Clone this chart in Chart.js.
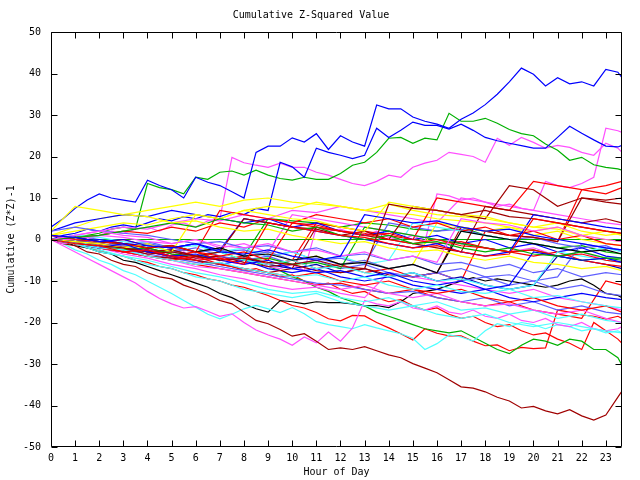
<!DOCTYPE html>
<html><head><meta charset="utf-8">
<script src="https://cdn.jsdelivr.net/npm/chart.js@4/dist/chart.umd.min.js"></script>
<style>html,body{margin:0;padding:0;background:#fff}</style>
</head><body>
<canvas id="c" width="640" height="480"></canvas>
<script>
// ---------- tick labels / categories ----------
const xTickValues = [0,1,2,3,4,5,6,7,8,9,10,11,12,13,14,15,16,17,18,19,20,21,22,23];
const yTickValues = [-50,-40,-30,-20,-10,0,10,20,30,40,50];
const hoursHalf = [0,0.5,1,1.5,2,2.5,3,3.5,4,4.5,5,5.5,6,6.5,7,7.5,8,8.5,9,9.5,10,10.5,11,11.5,12,12.5,13,13.5,14,14.5,15,15.5,16,16.5,17,17.5,18,18.5,19,19.5,20,20.5,21,21.5,22,22.5,23,23.5,23.67];
const hoursFull = [0,1,2,3,4,5,6,7,8,9,10,11,12,13,14,15,16,17,18,19,20,21,22,23,23.67];
const zeroHours = [0,23.67];
const zeroLine = [0,0];

// ---------- prominent series (half-hour readings) ----------
const topBlue = [3,5, 7.5,9.5, 11,10, 9.5,9, 14.3,13, 12,10, 15,13.8, 13,11.5, 10,21, 22.5,22.5, 24.5,23.5, 25.5,21.7, 25,23.5, 22.5,32.4, 31.5,31.5, 29.5,28.5, 27.8,26.8, 29,30.5, 32.5,35, 38,41.3, 39.8,37, 39,37.5, 38,37, 41,40.3, 39];
const secondBlue = [0,1, 1.5,2.5, 2,3, 3.5,3, 4,5, 4.5,5.5, 5,6, 5.5,6.5, 6,7.5, 7,18.6, 17.5,15, 22,21, 20.3,19.5, 20.3,26.8, 24.6,26.3, 28.3,27.5, 27.5,26.6, 27.8,26.3, 24.6,23.8, 23.2,22.6, 22,22, 24.6,27.3, 25.6,24, 22.5,22.3, 22.7];
const topGreen = [0,-0.5, 0.5,1, 1.5,2.5, 3,2.5, 13.5,12.5, 12,11, 15,14.5, 16.2,16.5, 15.5,16.7, 15.5,14.7, 14.3,15, 14.5,14.5, 15.9,17.9, 18.6,21, 24.4,24.6, 23.2,24.4, 24,30.4, 28.5,28.5, 29.2,28, 26.5,25.5, 25,23, 21.5,19.1, 19.8,18, 17.4,17, 16.7];
const topMagenta = [0,0.5, 1,0, 1,2, 1.5,2.5, 3,2, 3.5,4, 3,4.5, 5,19.8, 18.5,17.9, 17.4,18.4, 17.4,17.4, 16.2,15.5, 14.5,13.5, 13,14, 15.5,15, 17.4,18.4, 19.1,21, 20.5,20, 18.6,24.4, 22.7,24.6, 23.4,22, 22.7,22.2, 21,20.3, 23.2,22, 21];
const endMagenta = [0,-1, -0.5,-1.5, -2,-1, -2.5,-3, -2,-3.5, -4,-3, -4.5,-5, -4,-5.5, -6,-5, -6.5,-7, -6,-7.5, 3,2, 2.5,1.5, 1,2, 0.5,0, 1,-0.5, 11,10.5, 9.5,10, 9,8, 8.5,7.5, 7,14, 13,12.5, 13.5,15, 26.8,26.2, 25.8];
const lowDarkRed = [0,-1, -1.5,-3, -3.5,-5, -6,-6.5, -8,-9, -9.5,-11, -12,-13.2, -14.7,-15.5, -17.5,-19.5, -20.3,-21.7, -23.3,-22.7, -24.5,-26.5, -26.1,-26.5, -25.8,-26.8, -27.8,-28.5, -29.9,-31, -32.1,-33.8, -35.5,-35.8, -36.7,-38, -38.9,-40.6, -40.2,-41.3, -42,-41, -42.5,-43.5, -42.3,-38, -36.5];
const lowMagenta = [0,-1.5, -3,-4.5, -6,-7.5, -9,-10.5, -12.5,-14.2, -15.5,-16.5, -16.2,-17.3, -18.5,-17.9, -20,-21.8, -23,-24, -25.5,-23.5, -24.9,-22.3, -24.5,-21.3, -14.7,-15.5, -16,-15, -16.5,-17, -16,-17.5, -18,-17, -18.5,-19, -18,-19.5, -20,-19, -20.5,-21, -20,-21.5, -22,-21.5, -21];
const lowCyan = [0,-1, -2.5,-3.5, -5,-6, -7.5,-8.5, -10,-11.5, -13,-14.7, -16.3,-18, -19.1,-18, -16.7,-15.9, -16.7,-17.6, -16.4,-17.9, -19.8,-20.5, -21,-21.5, -20.5,-21.3, -22,-22.7, -23.8,-26.5, -25.1,-23, -23.5,-24.5, -22,-20.3, -21,-20, -20.5,-21.5, -20.5,-21, -22,-21.5, -22.5,-22, -22.5];
const lowBlack = [0,-0.5, -1.5,-2, -3,-3.5, -5,-5.5, -6.5,-7.5, -8.5,-9.5, -10.5,-11.5, -13,-14, -15.5,-16.7, -17.5,-14.7, -15,-15.5, -15,-15.2, -15.2,-15.5, -16,-15.9, -16.4,-15, -13,-12.5, -12,-11, -10,-9.2, -10,-9.5, -10,-10.5, -11,-11.5, -11,-10, -9.5,-11, -13,-13.5, -14];
const lowGreen = [0,-0.5, 0,-0.5, -1,-1.5, -1.5,-2, -2.5,-3, -3,-3.5, -4,-4, -4.5,-4.5, -5,-5.5, -6.5,-7.5, -9,-10, -11.5,-12.5, -14,-15, -16,-17.5, -18.5,-19.5, -20.5,-21.5, -22,-22.5, -22,-23.5, -25,-26.5, -27.5,-25.5, -24,-24.5, -25.5,-24, -24.5,-26.5, -26.5,-28.5, -30.3];
const lowRedA = [0,-0.5, -1,-2, -2.5,-3.5, -4,-5, -5.5,-6.5, -7,-8, -8.5,-9.5, -10,-11, -11.5,-12.5, -13.5,-14.7, -15.9,-16.5, -17.6,-19.1, -19.6,-18.3, -18.4,-20, -21.3,-22.7, -24.2,-21.5, -22.6,-23.2, -23.2,-24.5, -25.6,-25.4, -26.8,-26, -26.3,-26.1, -17,-17.5, -18.2,-18.5, -19.2,-18.5, -19];
const lowRedB = [1,0.5, 0,-0.5, -1.5,-1, -2,-3, -2.5,-3.5, -4.5,-4, -5,-6, -5.5,-6.5, -7.5,-7, -8,-9, -8.5,-10, -11,-10.5, -12,-13, -12.5,-14, -15,-14.5, -16,-17, -16.5,-18, -19,-18.5, -20,-21, -20.5,-22, -23,-22.5, -24,-25, -26.5,-20, -22,-24, -25];

// ---------- middle bundle (hourly readings) ----------
const mid01 = [0,-1,-1.5,-3,-2.5, -4,-5,-4.5,-6,4, 3,2,1,0.5,-1, -2,-1.5,-3,-4,-3.5, 5,4,3,2,1.5];
const mid02 = [1,0.5,-0.5,0,-1.5, -2,-1,-3,-3.5,-2.5, -4,-5,-4,6,5, 4,4.5,3,2,2.5, 1,0,-1,-2,-2.5];
const mid03 = [2,8,7,6,5.5, 4,4.5,3,2,2.5, 1,0,-1,-0.5,-2, -3,-2.5,-4,-5,-4, -5.5,-6,-7,-6.5,-7.5];
const mid04 = [0,-1,-3,-4,-6, -7,-9,-10,-12,-13, -14,-13,-15,-16,-17, -16,-18,-19,-18,-20, -21,-20,-21,-22,-22.5];
const mid05 = [0,-1,-1.5,-2,-3.5, -3,-4,-5,-4.5,-5.5, -6,-5,-6.5,-7,8.5, 7.5,7,6,7,5.5, 5,4,3,2,1.5];
const mid06 = [0,1,2,1,0.5, -1,0,-1.5,-2,-1, -3,-2.5,-4,-3,-5, -4,-5.5,5,4,3.5, 2,3,1,0,-0.5];
const mid07 = [0,-1,-2,-2.5,-4, -5,-6,-5.5,-7,-8, -9,-8.5,-10,-9,-11, -12,-11,-12.5,-13,-12, -14,-13.5,-15,-16,-16.5];
const mid08 = [0,0.5,1,2,3, 4,3,5,4,3.5, 2,3,1,0,1, -1,-0.5,-2,-3,-2, -3.5,-4,-3,-4.5,-4.5];
const mid09 = [0,-1,-2,-1,-3, -4,-3.5,-5,-6,-5, -7,-8,-7.5,-9,-8, -10,-11,-10,-12,-11, -3,-4,-5,-4.5,-5.5];
const mid10 = [1,0,-0.5,-1,-2, -1.5,-3,-4,-3,-5, 4,3,2,1.5,0, -1,0,-1.5,-2,-3, -2.5,-4,-3.5,-5,-5.5];
const mid11 = [0,-0.5,-1,-2,-1, -3,6,5,7,6, 5,4.5,3,2,9, 8,7,6,5.5,4, 3,2.5,1,0,-0.5];
const mid12 = [2,3,2,1.5,1, 0,-1,-0.5,-2,-1.5, -3,-2,-4,-3.5,-5, -4,-6,-5.5,-7,-6, -8,-7,-9,-8,-8.5];
const mid13 = [0,0.5,-0.5,-1,-2, -1.5,-3,-2,-4,-3.5, -5,-4,-6,-5.5,-7, -6,-8,2,1,0, -1,-2,-3,-2.5,-3.5];
const mid14 = [0,-1,-2,-3,-4, -5,-4,-6,-7,-8, -9,-8,-10,-11,-10, -12,-13,-12,-14,-15, -14,-16,-17,-16,-17.5];
const mid15 = [0,-0.5,-1,-2,-3, -2.5,-4,-3,5,4, 3,2.5,1,2,0, 8,7,6,5,13, 12,8,10,9,8.5];
const mid16 = [0,-0.5,0,-1,-1.5, -2,-1,-2.5,5,4, 3,2,1,0,-1, -2,-1,-3,-4,-3, 6,5,4,3,2.5];
const mid17 = [0,-0.5,-1.5,-2,-1.5, -3,-4,-3,-5,-6, -5,-7,-6.5,-8,-9, -8,-10,-9.5,-11,-12, -11,-3,-4,-5,-5.5];
const mid18 = [0,-1,-2,-3,-4, -5,-6.5,-7,-8,-9, -10,-11,-12,-11,-13, -14,-13,-15,-16,-15.5, -17,-18,-17,-19,-20];
const mid19 = [0,-1,-1.5,-2.5,-2, -3.5,-4,-3,-5,-4.5, -6,-5.5,-7,3,2, 1,0,-1,-2,-3, -2.5,-4,-5,-4.5,-5];
const mid20 = [0,-0.5,-1,-1.5,-1, -2,-3,-2.5,-4,-3, -5,-4.5,-6,-5,-7, -6,-8,-7,-9,-8.5, -10,-9,-1,-2,-2.5];
const mid21 = [1,2,3,4,3.5, 5,6,5,7,8, 7.5,9,8,7,8.5, 7,6,5.5,5,4, 3,4,2,1,1.5];
const mid22 = [0,-0.5,-1,0,-1.5, -2,-3,7,6,5, 4,3.5,2,1,1.5, 0,-1,-0.5,-2,-3, -4,-3,-5,-6,-6.5];
const mid23 = [2,4,5,6,5.5, 7,6,5,4,5, 3,4,2,1,2, 0,1,-1,0,-2, -1,-3,-2,-4,-4.5];
const mid24 = [0,-1,-2,-3,-4, -4.5,-5,-6,-7,-8, -7,3,2,1,0, -1,-2,-3,8,7, 6,5,4,5,4];
const mid25 = [0,0,1,0.5,-0.5, -1,0,-2,-1,-3, 6,5,4,3,2, 1,0,-1,-2,-3, -2,-4,-3,-5,-5.5];
const mid26 = [1,0,-1,-2,-1, -3,-2,-4,-5,-4, -6,-5,-7,-6,-8, -9,-8,-10,-9,-11, -10,-12,-11,-13,-13.5];
const mid27 = [0,1,0.5,-0.5,-1, -2,-1.5,-3,-2,-4, -3,-5,-4,-6,-5, 4,3,2,1,0, -1,-2,-3,-2,-3];
const mid28 = [0,0.5,1,2,1.5, 3,2,4,3,5, 4,6,5,4,5, 3,4,2,3,1, 2,0,1,-1,-1.5];
const mid29 = [0,-1,-2,-3,-2.5, -4,-5,-6,-5,-7, -8,-7,-9,-10,-9, -11,-12,-13,-12,-14, -15,-14,-13,-14,-14.5];
const mid30 = [0,-0.5,-1,-1.5,-2, -1.5,-3,-2.5,-4,-3, -5,-4,-6,-5,-7, -6,4,3,2,3, 1,2,0,-1,-1.5];
const mid31 = [0,-1,-2,-1,-3, -4,-3,-5,-4,-6, -5,4,3,2,1, 0,10,9,8,7, 14,13,12,11,12.5];
const mid32 = [0,-0.5,-1.5,-2.5,-2, -3.5,-4.5,-4,-5.5,-6.5, -6,-7.5,-8,-7,-8.5, -9,-8,3,2,1, 0.5,-0.5,10,9.5,10];
const mid33 = [0,1,0,-1,-0.5, -2,-1,-3,-2.5,-4, -3,-5,-4.5,-6,4, 3,2,2.5,1,0, 0.5,-1,-2,-1.5,-3];
const mid34 = [0,-0.5,-1,-2,-3, -2.5,-4,-5,-4.5,-6, -7,-6,-8,-7,-9, -8,-10,-9,-11,-12, -11,-4,-5,-6,-7];
const mid35 = [1,3,5,6,7, 8,9,8,9.5,10, 9,8.5,8,7,6.5, 6,5,4.5,4,3, 2,3,1,2,1];
const mid36 = [0,-1,-2,-1.5,-3, -4,-3,-5,-4,-6, -5,-7,-6,-8,-7, -9,-8,-10,2,1, 0.5,-0.5,12,13,14];
const mid37 = [0,1,2,3,2.5, 4,5,4.5,6,5, 7,6.5,8,7,6, 5,4,10,9,8, 7,6,5,4,3.5];
const mid38 = [0,0.5,-0.5,-1,-2, -1.5,-3,-2,-4,5, 4.5,4,3,4,3.5, 2.5,2,3,1,0, -1,-2,-1.5,-3,-3.5];
const mid39 = [0,-1,-2.5,-4,-5, -6.5,-8,-9,-10.5,-12, -13,-12.5,-14,-15,-14, -16,-15,-17,-16.5,-18, -17,-19,-18,-19.5,-20];
const mid40 = [0,-1,-2,-3.5,-4.5, -6,-7,-8.5,-9.5,-11, -12,-11.5,-13,-14,-8, -9,-10,-11,-12,-13, -12,-14,-15,-16,-17];
const mid41 = [0,-0.5,-1.5,-2.5,-3.5, -4.5,-5.5,-6.5,-7.5,-8.5, -9.5,-10.5,-11,-12,-13, -12.5,-14,-15,-14,-16, -15,-17,-16,-17.5,-18];
const mid42 = [0,-1,-2,-3,-4, -5,-6,-7,-8,-9, -10,-11,-10.5,-12,-13, -12,-14,-15,-16,-15, -17,-18,-19,-10,-11];

// ---------- colours (style, not data) ----------
const RED='#ff0000', GREEN='#00b000', BLUE='#0000ff', MAG='#ff50ff', CYAN='#50ffff',
      DRED='#a00000', YEL='#ffff00', BLK='#000000', LBLUE='#5f5fff', NAVY='#0000b0';

const seriesSpec = [
  [mid01,RED],[mid02,BLUE],[mid03,YEL],[mid04,CYAN],[mid05,DRED],[mid06,MAG],[mid07,CYAN],
  [mid08,GREEN],[mid09,BLUE],[mid10,RED],[mid11,YEL],[mid12,LBLUE],[mid13,BLK],[mid14,RED],
  [mid15,DRED],[mid16,BLUE],[mid17,CYAN],[mid18,MAG],[mid19,GREEN],[mid20,LBLUE],[mid21,YEL],
  [mid22,RED],[mid23,BLUE],[mid24,DRED],[mid25,MAG],[mid26,LBLUE],[mid27,CYAN],[mid28,RED],
  [mid29,BLUE],[mid30,YEL],[mid31,RED],[mid32,DRED],[mid33,LBLUE],[mid34,NAVY],
  [mid35,YEL],[mid36,RED],[mid37,MAG],[mid38,GREEN],
  [mid39,CYAN],[mid40,MAG],[mid41,LBLUE],[mid42,RED]
].map(([v,c])=>({xs:hoursFull, ys:v, color:c}));

[
  [topBlue,BLUE],[secondBlue,BLUE],[topGreen,GREEN],[topMagenta,MAG],[endMagenta,MAG],
  [lowDarkRed,DRED],[lowMagenta,MAG],[lowCyan,CYAN],[lowBlack,BLK],[lowGreen,GREEN],
  [lowRedA,RED],[lowRedB,RED]
].forEach(([v,c])=>seriesSpec.push({xs:hoursHalf, ys:v, color:c}));
seriesSpec.push({xs:zeroHours, ys:zeroLine, color:GREEN});

const datasets = seriesSpec.map((s,i)=>({
  label:'run '+(i+1),
  data:s.xs.map((h,k)=>({x:h, y:s.ys[k]})),
  borderColor:s.color, backgroundColor:s.color,
  borderWidth:1.2, pointRadius:0, tension:0, fill:false
}));

const FONT = {family:"'DejaVu Sans Mono', monospace", size:10, lineHeight:1.2};

const framePlugin = {
  id:'frame',
  afterDatasetsDraw(chart){
    const {ctx, chartArea:a, scales:{x,y}} = chart;
    const L=Math.round(a.left)+0.5, R=Math.round(a.right)-0.5, T=Math.round(a.top)+0.5, B=Math.round(a.bottom)-0.5;
    ctx.save(); ctx.strokeStyle='#000'; ctx.lineWidth=1; ctx.beginPath();
    ctx.rect(L,T,R-L,B-T);
    x.ticks.forEach(t=>{const p=Math.round(x.getPixelForValue(t.value))+0.5;
      ctx.moveTo(p,B); ctx.lineTo(p,B-6); ctx.moveTo(p,T); ctx.lineTo(p,T+6);});
    y.ticks.forEach(t=>{const p=Math.round(y.getPixelForValue(t.value))+0.5;
      ctx.moveTo(L,p); ctx.lineTo(L+6,p); ctx.moveTo(R,p); ctx.lineTo(R-6,p);});
    ctx.stroke(); ctx.restore();
  }
};

new Chart(document.getElementById('c'), {
  type:'line',
  data:{datasets},
  options:{
    responsive:false, animation:false, devicePixelRatio:1,
    layout:{padding:{left:0,right:18,top:0,bottom:0}},
    plugins:{
      legend:{display:false}, tooltip:{enabled:false},
      title:{display:true, text:'Cumulative Z-Squared Value', color:'#000', font:{...FONT, weight:'normal'}, padding:{top:9,bottom:11}}
    },
    scales:{
      x:{type:'linear', min:0, max:23.67,
        afterBuildTicks(s){ s.ticks = xTickValues.map(v=>({value:v})); },
        afterFit(s){ s.height = 33; },
        grid:{display:false, drawTicks:false}, border:{display:false},
        ticks:{color:'#000', font:FONT, padding:5, autoSkip:false, maxRotation:0, callback:v=>String(v)},
        title:{display:true, text:'Hour of Day', color:'#000', font:FONT, padding:{top:0,bottom:2}}
      },
      y:{type:'linear', min:-50, max:50,
        afterBuildTicks(s){ s.ticks = yTickValues.map(v=>({value:v})); },
        afterFit(s){ s.width = 51; },
        grid:{display:false, drawTicks:false}, border:{display:false},
        ticks:{color:'#000', font:FONT, padding:10, callback:v=>String(v)},
        title:{display:true, text:'Cumulative (Z*Z)-1', color:'#000', font:FONT, padding:{top:5,bottom:0}}
      }
    }
  },
  plugins:[framePlugin]
});
</script>
</body></html>
